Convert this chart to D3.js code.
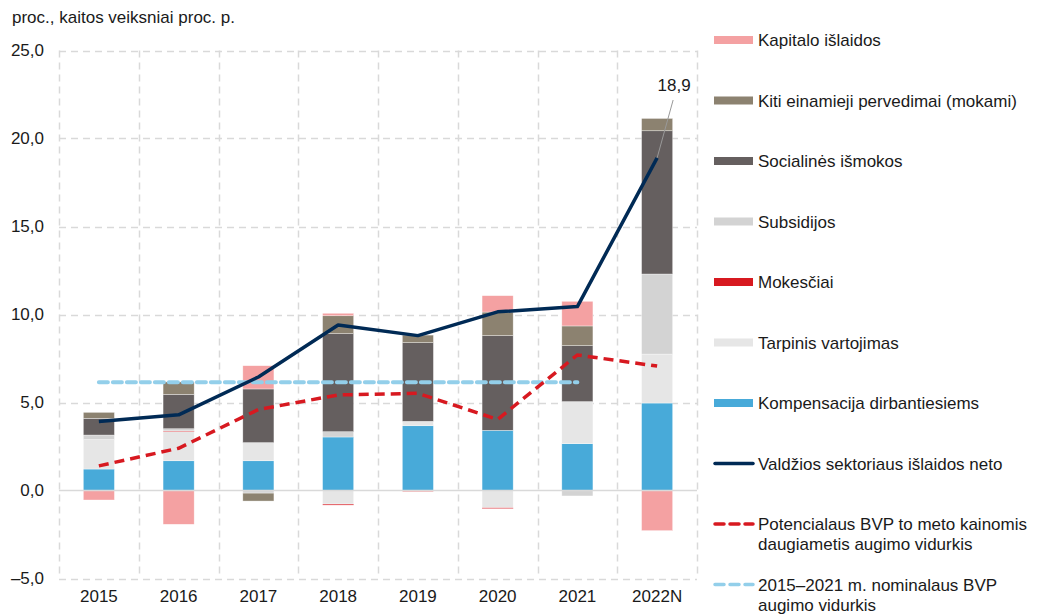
<!DOCTYPE html>
<html>
<head>
<meta charset="utf-8">
<script src="https://cdn.jsdelivr.net/npm/d3@7"></script>
<style>
  body { margin: 0; background: #fff; }
  text { font-family: "Liberation Sans", Arial, sans-serif; fill: #1a1a1a; }
</style>
</head>
<body>
<svg id="chart" width="1041" height="614"></svg>
<script>
// categories
var years = ["2015", "2016", "2017", "2018", "2019", "2020", "2021", "2022N"];

// stacked components (proc. p.), bottom to top
var kompensacija = [1.22, 1.69, 1.69, 3.04, 3.68, 3.42, 2.66, 4.97];
var tarpinis     = [1.67, 1.65, 1.03, -0.77, 0.25, -0.98, 2.39, 2.78];
var mokesciai    = [0, 0.05, 0, -0.06, 0, -0.05, 0, 0];
var subsidijos   = [0.26, 0.12, -0.15, 0.30, 0, 0, -0.31, 4.55];
var socialines   = [0.95, 1.95, 3.05, 5.57, 4.47, 5.38, 3.18, 8.14];
var kiti         = [0.34, 0.71, -0.45, 1.02, 0.43, 1.34, 1.12, 0.70];
var kapitalo     = [-0.54, -1.92, 1.32, 0.14, -0.08, 0.93, 1.40, -2.28];

// lines
var islaidosNeto = [3.92, 4.30, 6.45, 9.40, 8.80, 10.15, 10.45, 18.9];
var potencialus  = [1.40, 2.40, 4.60, 5.43, 5.52, 4.04, 7.70, 7.07];
var nominalusVid = [6.15, 6.15, 6.15, 6.15, 6.15, 6.15, 6.15];   // 2015-2021

var yTicks = [-5, 0, 5, 10, 15, 20, 25];

var series = [
  {name: "Kompensacija dirbantiesiems", values: kompensacija, color: "#48aad9"},
  {name: "Tarpinis vartojimas", values: tarpinis, color: "#e6e6e6"},
  {name: "Mokesčiai", values: mokesciai, color: "#d71920"},
  {name: "Subsidijos", values: subsidijos, color: "#d3d3d3"},
  {name: "Socialinės išmokos", values: socialines, color: "#655f5f"},
  {name: "Kiti einamieji pervedimai (mokami)", values: kiti, color: "#8c8270"},
  {name: "Kapitalo išlaidos", values: kapitalo, color: "#f4a1a2"}
];

var svg = d3.select("#chart");
var fs = "17px";

var x = d3.scaleBand().domain(years).range([59, 697]).padding(0);
var y = d3.scaleLinear().domain([-5, 25]).range([578.5, 50.5]);
var barW = x.bandwidth() * 0.39;

//title
svg.append("text").attr("x", 12).attr("y", 23)
   .style("font-size", fs).text("proc., kaitos veiksniai proc. p.");

//grid: horizontal dashed
var grid = svg.append("g");
grid.selectAll("line.h")
    .data(yTicks.filter(function(t){ return t !== 0; }))
    .enter().append("line")
    .attr("x1", 59).attr("x2", 697)
    .attr("y1", function(d){ return Math.round(y(d)) + 0.5; })
    .attr("y2", function(d){ return Math.round(y(d)) + 0.5; })
    .attr("stroke", "#d9d9d9").attr("stroke-width", 1.5)
    .attr("stroke-dasharray", "7,5");

//grid: vertical dashed at band edges
var edges = years.map(function(d){ return x(d); }).concat([697]);
grid.selectAll("line.v")
    .data(edges)
    .enter().append("line")
    .attr("x1", function(d){ return Math.round(d) + 0.5; })
    .attr("x2", function(d){ return Math.round(d) + 0.5; })
    .attr("y1", y(25)).attr("y2", y(-5))
    .attr("stroke", "#d9d9d9").attr("stroke-width", 1.5)
    .attr("stroke-dasharray", "7,5");

//y axis labels
var yAxis = d3.axisLeft(y).tickValues(yTicks).tickSize(0).tickPadding(0)
    .tickFormat(function(d){ return (d < 0 ? "–" : "") + Math.abs(d).toFixed(1).replace(".", ","); });
svg.append("g").attr("transform", "translate(44,0)").call(yAxis)
   .call(function(g){ g.select(".domain").remove(); })
   .selectAll("text").style("font-size", fs)
   .attr("font-family", null).attr("fill", "#1a1a1a");

//x axis labels
var xAxis = d3.axisBottom(x).tickSize(0).tickPadding(0);
svg.append("g").attr("transform", "translate(0,590)").call(xAxis)
   .call(function(g){ g.select(".domain").remove(); })
   .selectAll("text").style("font-size", fs)
   .attr("font-family", null).attr("fill", "#1a1a1a");

//stacked bars, positives and negatives stacked separately
var rects = [];
years.forEach(function(yr, i){
  var pos = 0, neg = 0;
  series.forEach(function(s){
    var v = s.values[i];
    if (v === 0) return;
    var y0, y1;
    if (v > 0) { y0 = pos; y1 = pos + v; pos = y1; }
    else { y0 = neg + v; y1 = neg; neg = y0; }
    rects.push({year: yr, lo: y0, hi: y1, color: s.color});
  });
});

svg.append("g").selectAll("rect")
   .data(rects)
   .enter().append("rect")
   .attr("x", function(d){ return x(d.year) + x.bandwidth()/2 - barW/2; })
   .attr("width", barW)
   .attr("y", function(d){ return y(d.hi); })
   .attr("height", function(d){ return Math.max(0.8, y(d.lo) - y(d.hi)); })
   .style("fill", function(d){ return d.color; })
   .style("stroke", "#ffffff").style("stroke-opacity", 0.6).style("stroke-width", 0.6);

//zero line
svg.append("line").attr("x1", 59).attr("x2", 697)
   .attr("y1", y(0)).attr("y2", y(0))
   .attr("stroke", "#d9d9d9").attr("stroke-width", 1.5);

var cx = function(i){ return x(years[i]) + x.bandwidth()/2; };
var line = d3.line().x(function(d, i){ return cx(i); }).y(function(d){ return y(d); });

//2015-2021 nominal GDP average
svg.append("path").datum(nominalusVid).attr("d", line)
   .attr("fill", "none").attr("stroke", "#93cfea").attr("stroke-width", 4)
   .attr("stroke-dasharray", "9,5").attr("stroke-linecap", "round");

//potential GDP
svg.append("path").datum(potencialus).attr("d", line)
   .attr("fill", "none").attr("stroke", "#d71920").attr("stroke-width", 3.5)
   .attr("stroke-dasharray", "10,6");

//general government expenditure net
svg.append("path").datum(islaidosNeto).attr("d", line)
   .attr("fill", "none").attr("stroke", "#002a55").attr("stroke-width", 3.5)
   .attr("stroke-linejoin", "round");

//label for the last value
var last = islaidosNeto.length - 1;
svg.append("line")
   .attr("x1", cx(last)).attr("y1", y(islaidosNeto[last]))
   .attr("x2", cx(last) + 16).attr("y2", 100)
   .attr("stroke", "#999").attr("stroke-width", 1);
svg.append("text").attr("x", cx(last) + 17).attr("y", 91)
   .attr("text-anchor", "middle").style("font-size", fs)
   .text(islaidosNeto[last].toFixed(1).replace(".", ","));

//legend
var legend = [
  {label: ["Kapitalo išlaidos"], color: "#f4a1a2", type: "box"},
  {label: ["Kiti einamieji pervedimai (mokami)"], color: "#8c8270", type: "box"},
  {label: ["Socialinės išmokos"], color: "#655f5f", type: "box"},
  {label: ["Subsidijos"], color: "#d3d3d3", type: "box"},
  {label: ["Mokesčiai"], color: "#d71920", type: "box"},
  {label: ["Tarpinis vartojimas"], color: "#e6e6e6", type: "box"},
  {label: ["Kompensacija dirbantiesiems"], color: "#48aad9", type: "box"},
  {label: ["Valdžios sektoriaus išlaidos neto"], color: "#002a55", type: "line"},
  {label: ["Potencialaus BVP to meto kainomis", "daugiametis augimo vidurkis"], color: "#d71920", type: "dash"},
  {label: ["2015–2021 m. nominalaus BVP", "augimo vidurkis"], color: "#93cfea", type: "dash"}
];
var lg = svg.append("g").selectAll("g")
    .data(legend).enter().append("g")
    .attr("transform", function(d, i){ return "translate(714," + (40 + i * 60.5) + ")"; });
lg.filter(function(d){ return d.type === "box"; })
  .append("rect").attr("x", 0).attr("y", -4).attr("width", 39).attr("height", 8)
  .style("fill", function(d){ return d.color; });
lg.filter(function(d){ return d.type !== "box"; })
  .append("line").attr("x1", 1).attr("x2", 39).attr("y1", 0).attr("y2", 0)
  .attr("stroke", function(d){ return d.color; })
  .attr("stroke-width", 3.5)
  .attr("stroke-linecap", "round")
  .attr("stroke-dasharray", function(d){ return d.type === "dash" ? "9,6" : null; });
lg.each(function(d){
  var t = d3.select(this).append("text").attr("x", 44).attr("y", 6).style("font-size", fs);
  d.label.forEach(function(s, k){
    t.append("tspan").attr("x", 44).attr("dy", k === 0 ? 0 : 20).text(s);
  });
});
</script>
</body>
</html>
